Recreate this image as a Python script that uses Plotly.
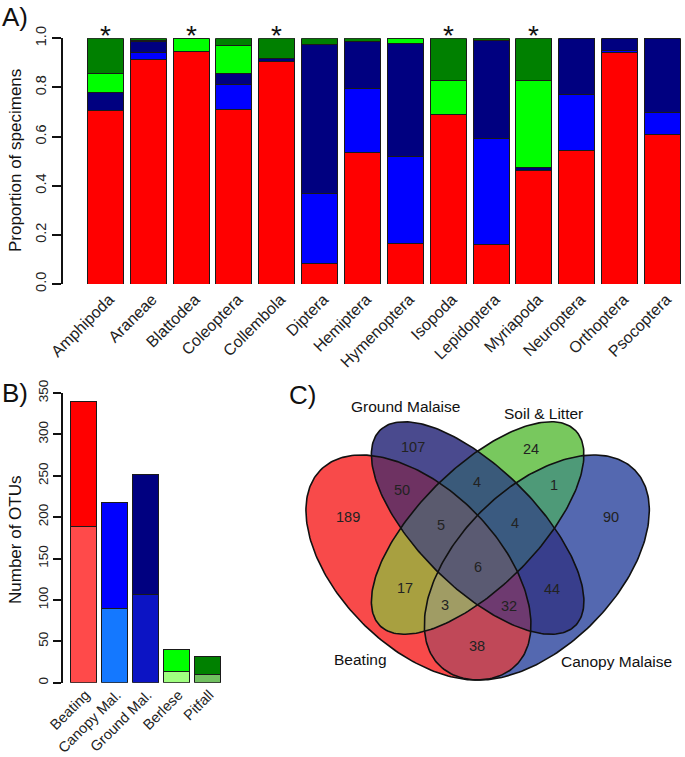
import numpy as np
import plotly.graph_objects as go

# ---------------- data ----------------
taxa = ["Amphipoda", "Araneae", "Blattodea", "Coleoptera", "Collembola", "Diptera",
        "Hemiptera", "Hymenoptera", "Isopoda", "Lepidoptera", "Myriapoda",
        "Neuroptera", "Orthoptera", "Psocoptera"]
prop_beating = [0.705, 0.912, 0.948, 0.709, 0.904, 0.083, 0.534, 0.165, 0.690, 0.160, 0.464, 0.545, 0.943, 0.608]
prop_canopy  = [0.000, 0.029, 0.000, 0.102, 0.000, 0.287, 0.262, 0.353, 0.000, 0.431, 0.000, 0.227, 0.009, 0.091]
prop_ground  = [0.075, 0.045, 0.000, 0.044, 0.013, 0.603, 0.192, 0.462, 0.000, 0.402, 0.011, 0.228, 0.048, 0.301]
prop_berlese = [0.075, 0.004, 0.052, 0.115, 0.000, 0.000, 0.000, 0.020, 0.139, 0.000, 0.354, 0.000, 0.000, 0.000]
prop_pitfall = [0.145, 0.010, 0.000, 0.030, 0.083, 0.027, 0.012, 0.000, 0.171, 0.007, 0.171, 0.000, 0.000, 0.000]
significant = [True, False, True, False, True, False, False, False, True, False, True, False, False, False]

methods = ["Beating", "Canopy Mal.", "Ground Mal.", "Berlese", "Pitfall"]
otus_unique = [189, 90, 107, 14, 10]
otus_shared = [151, 128, 145, 26, 22]

venn_sets = ["Beating", "Ground Malaise", "Soil & Litter", "Canopy Malaise"]
# region membership: B=Beating, G=Ground Malaise, S=Soil & Litter, C=Canopy Malaise
venn_regions = ["B", "G", "S", "C", "BG", "BS", "BC", "GS", "GC", "SC",
                "BGS", "BGC", "BSC", "GSC", "BGSC"]
venn_counts = [189, 107, 24, 90, 50, 17, 38, 4, 44, 1, 5, 32, 3, 4, 6]

# ---------------- styles / geometry ----------------
W, H = 685, 757
FONT = "Liberation Sans, Arial, Helvetica, sans-serif"
colA = ["#FF0000", "#0000FF", "#000080", "#00FF00", "#008000"]
colB_low = ["#FF4A4A", "#1478FF", "#0C14C4", "#A0FF80", "#70C060"]
colB_up = ["#FF0000", "#0000FF", "#000080", "#00FF00", "#008000"]

region_colors = {
    "B": "#F84A4A", "G": "#4A4A8E", "S": "#78C85E", "C": "#5468B0",
    "BG": "#6E3262", "BS": "#A8A040", "BC": "#C04858", "GS": "#3A5A7A",
    "GC": "#383E8C", "SC": "#4E9A78", "BGS": "#5A5A6E", "BGC": "#6E3A70",
    "BSC": "#A09C64", "GSC": "#3A5A80", "BGSC": "#5A5A72",
}
region_label_pos = {
    "B": (0.171, 0.599), "G": (0.337, 0.775), "S": (0.634, 0.769), "C": (0.837, 0.599),
    "BG": (0.308, 0.666), "GS": (0.499, 0.687), "SC": (0.694, 0.679),
    "BGS": (0.407, 0.578), "GSC": (0.595, 0.582), "BGSC": (0.500, 0.470),
    "BS": (0.316, 0.419), "GC": (0.689, 0.415), "BSC": (0.417, 0.375),
    "BGC": (0.579, 0.373), "BC": (0.498, 0.271),
}
set_label_pos = [(0.204, 0.237), (0.316, 0.877), (0.668, 0.861), (0.852, 0.231)]
# ellipse geometry (cx, cy, a, b, angle deg) in unit square
ellipses = {
    "B": (0.35, 0.47, 0.35, 0.20, 135),
    "G": (0.50, 0.57, 0.35, 0.15, 135),
    "S": (0.50, 0.57, 0.35, 0.15, 45),
    "C": (0.65, 0.47, 0.35, 0.20, 45),
}


def ellipse_pts(cx, cy, a, b, ang, n=240):
    t = np.linspace(0, 2 * np.pi, n, endpoint=False)
    th = np.deg2rad(ang)
    x = cx + a * np.cos(t) * np.cos(th) - b * np.sin(t) * np.sin(th)
    y = cy + a * np.cos(t) * np.sin(th) + b * np.sin(t) * np.cos(th)
    return list(zip(x, y))


def clip_poly(subject, clipper):
    def inside(p, a, b):
        return (b[0] - a[0]) * (p[1] - a[1]) - (b[1] - a[1]) * (p[0] - a[0]) >= 0

    def inter(s, e, a, b):
        dc = (a[0] - b[0], a[1] - b[1])
        dp = (s[0] - e[0], s[1] - e[1])
        n1 = a[0] * b[1] - a[1] * b[0]
        n2 = s[0] * e[1] - s[1] * e[0]
        den = dc[0] * dp[1] - dc[1] * dp[0]
        return ((n1 * dp[0] - n2 * dc[0]) / den, (n1 * dp[1] - n2 * dc[1]) / den)

    out = subject
    for i in range(len(clipper)):
        a, b = clipper[i - 1], clipper[i]
        inp, out = out, []
        if not inp:
            break
        s = inp[-1]
        for e in inp:
            if inside(e, a, b):
                if not inside(s, a, b):
                    out.append(inter(s, e, a, b))
                out.append(e)
            elif inside(s, a, b):
                out.append(inter(s, e, a, b))
            s = e
    return out


fig = go.Figure()

# ---------------- Panel A ----------------
xA = list(range(len(taxa)))
for vals, c in zip([prop_beating, prop_canopy, prop_ground, prop_berlese, prop_pitfall], colA):
    fig.add_trace(go.Bar(x=xA, y=vals, width=0.84, marker=dict(color=c, line=dict(color="#1a1a1a", width=1)),
                         xaxis="x", yaxis="y", showlegend=False, hoverinfo="skip"))

# ---------------- Panel B ----------------
xB = list(range(len(methods)))
fig.add_trace(go.Bar(x=xB, y=otus_unique, width=0.84, marker=dict(color=colB_low, line=dict(color="#1a1a1a", width=1)),
                     xaxis="x2", yaxis="y2", showlegend=False, hoverinfo="skip"))
fig.add_trace(go.Bar(x=xB, y=otus_shared, width=0.84, marker=dict(color=colB_up, line=dict(color="#1a1a1a", width=1)),
                     xaxis="x2", yaxis="y2", showlegend=False, hoverinfo="skip"))

# ---------------- Panel C (Venn) ----------------
polys = {k: ellipse_pts(*v) for k, v in ellipses.items()}
for reg in sorted(venn_regions, key=len):
    poly = polys[reg[0]]
    for k in reg[1:]:
        poly = clip_poly(poly, polys[k])
    px = [p[0] for p in poly] + [poly[0][0]]
    py = [p[1] for p in poly] + [poly[0][1]]
    fig.add_trace(go.Scatter(x=px, y=py, mode="lines", fill="toself", fillcolor=region_colors[reg],
                             line=dict(width=0, color=region_colors[reg]), xaxis="x3", yaxis="y3",
                             showlegend=False, hoverinfo="skip"))
for k in ["B", "G", "S", "C"]:
    poly = polys[k]
    fig.add_trace(go.Scatter(x=[p[0] for p in poly] + [poly[0][0]], y=[p[1] for p in poly] + [poly[0][1]],
                             mode="lines", line=dict(width=1.6, color="#111111"), xaxis="x3", yaxis="y3",
                             showlegend=False, hoverinfo="skip"))

ann = []
for reg, cnt in zip(venn_regions, venn_counts):
    x, y = region_label_pos[reg]
    ann.append(dict(x=x, y=y, xref="x3", yref="y3", text=str(cnt), showarrow=False,
                    font=dict(size=14.5, color="#222222", family=FONT)))
for name, (x, y) in zip(venn_sets, set_label_pos):
    ann.append(dict(x=x, y=y, xref="x3", yref="y3", text=name, showarrow=False,
                    font=dict(size=15.5, color="#111111", family=FONT)))

# asterisks
for i, s in enumerate(significant):
    if s:
        ann.append(dict(x=i, y=1.0, xref="x", yref="y", text="*", showarrow=False, yanchor="bottom",
                        yshift=-15, font=dict(size=28, color="#111111", family=FONT)))

# axis titles and panel letters
ann.append(dict(x=15 / W, y=1 - 161 / H, xref="paper", yref="paper", text="Proportion of specimens",
                textangle=-90, xanchor="center", yanchor="middle", showarrow=False,
                font=dict(size=17, color="#111111", family=FONT)))
ann.append(dict(x=15 / W, y=1 - 540 / H, xref="paper", yref="paper", text="Number of OTUs",
                textangle=-90, xanchor="center", yanchor="middle", showarrow=False,
                font=dict(size=17, color="#111111", family=FONT)))
for lab, x, y in [("A)", 0, 0), ("B)", 0, 376), ("C)", 287, 378)]:
    ann.append(dict(x=x / W, y=1 - y / H, xref="paper", yref="paper", text=lab, xanchor="left",
                    yanchor="top", showarrow=False, font=dict(size=26, color="#111111", family=FONT)))

yax_common = dict(showline=True, linewidth=1.5, linecolor="#111111", ticks="outside", ticklen=9,
                  tickwidth=1.5, tickcolor="#111111", showgrid=False, zeroline=False, tickangle=-90,
                  automargin=False, tickfont=dict(size=14.5, color="#222222", family=FONT))

fig.update_layout(
    width=W, height=H, margin=dict(l=0, r=0, t=0, b=0, autoexpand=False),
    paper_bgcolor="white", plot_bgcolor="white", barmode="stack", showlegend=False,
    xaxis=dict(domain=[63 / W, 1.0], range=[-0.987, 13.526], tickvals=xA, ticktext=taxa, tickangle=-45,
               showline=False, ticks="", showgrid=False, zeroline=False, automargin=False,
               ticklabelshift=4, ticklabelstandoff=2,
               tickfont=dict(size=16, color="#222222", family=FONT), anchor="y"),
    yaxis=dict(domain=[1 - 284 / H, 1 - 38.3 / H], range=[0, 1], tickvals=[0, 0.2, 0.4, 0.6, 0.8, 1.0],
               ticktext=["0.0", "0.2", "0.4", "0.6", "0.8", "1.0"], anchor="x", **yax_common),
    xaxis2=dict(domain=[63 / W, 240 / W], range=[-0.669, 5.05], tickvals=xB, ticktext=methods, tickangle=-45,
                showline=False, ticks="", showgrid=False, zeroline=False, automargin=False,
                ticklabelshift=2, ticklabelstandoff=0,
                tickfont=dict(size=14.5, color="#222222", family=FONT), anchor="y2"),
    yaxis2=dict(domain=[1 - 682.7 / H, 1 - 392.9 / H], range=[0, 350], tickvals=[0, 50, 100, 150, 200, 250, 300, 350],
                anchor="x2", **{**yax_common, "tickfont": dict(size=13.5, color="#222222", family=FONT), "ticklen": 8}),
    xaxis3=dict(domain=[280.3 / W, 674.99 / W], range=[0, 1], visible=False, anchor="y3", automargin=False),
    yaxis3=dict(domain=[1 - 753 / H, 1 - 358.3 / H], range=[0, 1], visible=False, anchor="x3", automargin=False),
    annotations=ann,
)

fig.write_html("out.html", config={"displayModeBar": False},
               post_script="document.body.style.margin='0';document.body.style.overflow='hidden';")
